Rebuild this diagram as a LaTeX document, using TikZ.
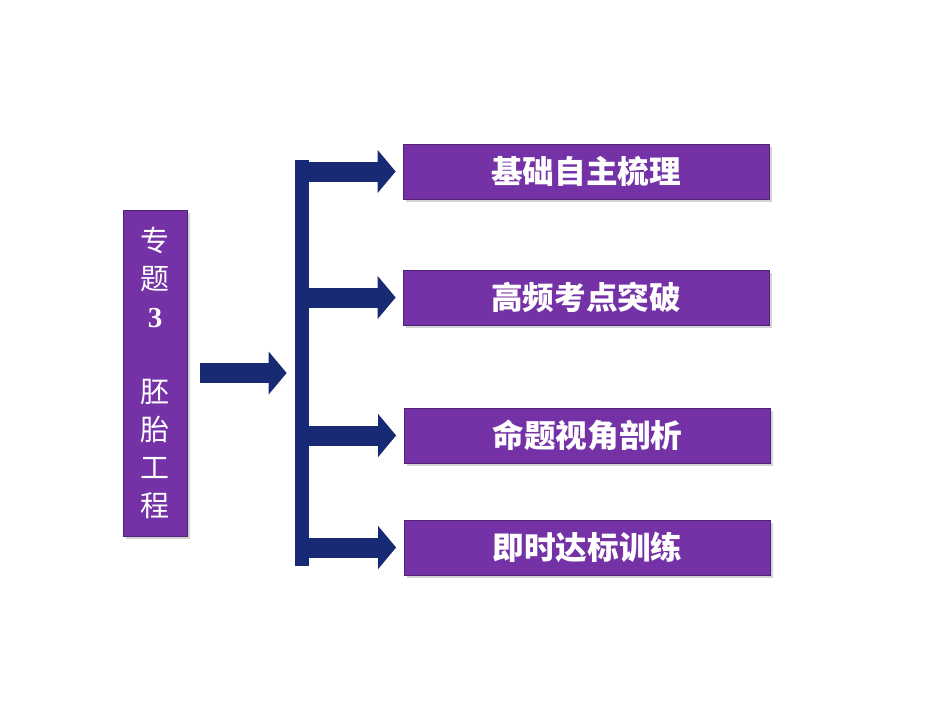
\documentclass[tikz,border=0pt]{standalone}
\usepackage{fontspec}
\newfontfamily\cjk{Noto Sans CJK SC}
\newfontfamily\numfont{Liberation Serif}
\usepackage{xcolor}
\usepackage{tikz}
\usetikzlibrary{arrows.meta, positioning, shadows}

\definecolor{topicpurple}{RGB}{116,50,166}
\definecolor{barnavy}{RGB}{24,42,116}

\begin{document}
\begin{tikzpicture}[
    topic/.style={draw=topicpurple!70!black, fill=topicpurple, text=white,
      drop shadow={opacity=0.35, shadow xshift=0.05cm, shadow yshift=-0.05cm}},
    branch/.style={barnavy, line width=0.4cm,
      -{Triangle[width=0.84cm, length=0.36cm]}}
  ]
    \useasboundingbox (0,0) rectangle (19,-14.26);

    % Chapter box on the left
    \node[topic, minimum width=1.28cm, minimum height=6.52cm, align=center,
      font=\cjk\fontsize{16.5}{21.5}\selectfont] (chapter) at (3.10,-7.46)
      {专\\题\\{\numfont\bfseries 3}\\[21.5pt]胚\\胎\\工\\程};

    % Vertical bar
    \node[fill=barnavy, minimum width=0.28cm, minimum height=8.12cm, inner sep=0pt] (bar) at (6.04,-7.26) {};

    % Section boxes
    \node[topic, minimum width=7.32cm, minimum height=1.1cm, font=\cjk\bfseries\fontsize{18}{20}\selectfont] (basics) at (11.72,-3.43) {基础自主梳理};
    \node[topic, minimum width=7.32cm, minimum height=1.1cm, font=\cjk\bfseries\fontsize{18}{20}\selectfont] (focus) at (11.72,-5.95) {高频考点突破};
    \node[topic, minimum width=7.32cm, minimum height=1.1cm, font=\cjk\bfseries\fontsize{18}{20}\selectfont] (angle) at (11.75,-8.71) {命题视角剖析};
    \node[topic, minimum width=7.32cm, minimum height=1.1cm, font=\cjk\bfseries\fontsize{18}{20}\selectfont] (drill) at (11.75,-10.95) {即时达标训练};

    % Arrows
    \draw[branch, shorten <=0.26cm, shorten >=0.16cm] (chapter.east) -- (chapter.east -| bar.west);
    \draw[branch, shorten >=0.14cm] (bar.east |- basics.west) -- (basics.west);
    \draw[branch, shorten >=0.14cm] (bar.east |- focus.west) -- (focus.west);
    \draw[branch, shorten >=0.16cm] (bar.east |- angle.west) -- (angle.west);
    \draw[branch, shorten >=0.16cm] (bar.east |- drill.west) -- (drill.west);

\end{tikzpicture}
\end{document}
